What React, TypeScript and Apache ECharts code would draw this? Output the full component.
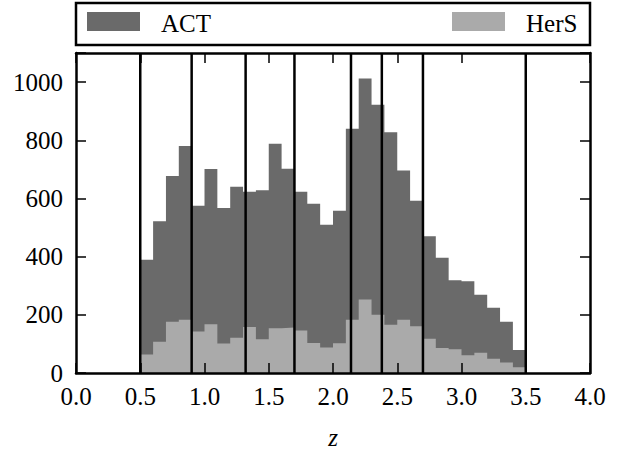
import { useEffect, useRef } from "react";
import * as echarts from "echarts";

const binStarts = [0.5, 0.6, 0.7, 0.8, 0.9, 1.0, 1.1, 1.2, 1.3, 1.4, 1.5, 1.6, 1.7, 1.8, 1.9, 2.0, 2.1, 2.2, 2.3, 2.4, 2.5, 2.6, 2.7, 2.8, 2.9, 3.0, 3.1, 3.2, 3.3, 3.4];
const binWidth = 0.1;
const actCounts = [389, 522, 677, 780, 575, 701, 567, 640, 623, 628, 788, 702, 623, 582, 510, 558, 840, 1012, 922, 828, 696, 592, 470, 396, 319, 315, 269, 224, 176, 79];
const hersCounts = [64, 107, 176, 183, 143, 168, 101, 121, 158, 116, 154, 156, 146, 103, 88, 102, 183, 253, 200, 166, 183, 161, 118, 86, 82, 61, 70, 49, 36, 20];
const boundaries = [0.5, 0.9, 1.32, 1.7, 2.14, 2.38, 2.7, 3.5];
const seriesNames = ["ACT", "HerS"];

const DARK = "#6a6a6a";
const LIGHT = "#aaaaaa";
const FONT = '"Liberation Serif", "DejaVu Serif", serif';
const YMAX = 1100;

function stepData(counts: number[]) {
  const pts = binStarts.map((b, i) => [b, counts[i]]);
  const last = binStarts.length - 1;
  pts.push([binStarts[last] + binWidth, counts[last]]);
  return pts;
}

export default function App() {
  const ref = useRef<HTMLDivElement>(null);
  useEffect(() => {
    if (!ref.current) return;
    const chart = echarts.init(ref.current, undefined, { renderer: "svg" });

    const axisLine = { show: true, onZero: false, lineStyle: { color: "#000", width: 2.5 } };
    const axisTick = { show: true, inside: true, length: 10, lineStyle: { color: "#000", width: 1.5 } };
    const labelStyle = { color: "#000", fontFamily: FONT, fontSize: 25 };

    const histSeries = (name: string, counts: number[], color: string, z: number) => ({
      name,
      type: "line",
      xAxisIndex: 0,
      yAxisIndex: 0,
      step: "end",
      data: stepData(counts),
      showSymbol: false,
      symbol: "none",
      lineStyle: { width: 1, color, opacity: 0 },
      areaStyle: { color, opacity: 1, origin: "start" },
      z,
    });

    chart.setOption({
      animation: false,
      backgroundColor: "#fff",
      grid: { left: 76, right: 39, top: 53, bottom: 75 },
      xAxis: [
        {
          type: "value",
          min: 0,
          max: 4,
          interval: 0.5,
          position: "bottom",
          axisLine,
          axisTick,
          splitLine: { show: false },
          axisLabel: { ...labelStyle, margin: 11, formatter: (v: number) => v.toFixed(1) },
          name: "z",
          nameLocation: "middle",
          nameGap: 52,
          nameTextStyle: { ...labelStyle, fontStyle: "italic" },
          z: 10,
        },
        {
          type: "value",
          min: 0,
          max: 4,
          interval: 0.5,
          position: "top",
          axisLine,
          axisTick,
          splitLine: { show: false },
          axisLabel: { show: false },
          z: 10,
        },
      ],
      yAxis: [
        {
          type: "value",
          min: 0,
          max: YMAX,
          interval: 200,
          position: "left",
          axisLine,
          axisTick,
          splitLine: { show: false },
          axisLabel: { ...labelStyle, margin: 13, formatter: (v: number) => (v > 1000 ? "" : String(v)) },
          z: 10,
        },
        {
          type: "value",
          min: 0,
          max: YMAX,
          interval: 200,
          position: "right",
          axisLine,
          axisTick,
          splitLine: { show: false },
          axisLabel: { show: false },
          z: 10,
        },
      ],
      series: [
        histSeries(seriesNames[0], actCounts, DARK, 2),
        histSeries(seriesNames[1], hersCounts, LIGHT, 3),
        {
          name: "bounds",
          type: "custom",
          xAxisIndex: 0,
          yAxisIndex: 0,
          encode: { x: 0, y: 1 },
          data: boundaries.map((b) => [b, 0]),
          renderItem: (params: any, api: any) => {
            const x = api.value(0);
            const top = api.coord([x, YMAX]);
            const bot = api.coord([x, 0]);
            return {
              type: "line",
              shape: { x1: top[0], y1: top[1], x2: bot[0], y2: bot[1] },
              style: { stroke: "#000", lineWidth: 2.5 },
            };
          },
          z: 4,
        },
      ],
      graphic: [
        {
          type: "rect",
          shape: { x: 76, y: 3, width: 514, height: 42 },
          style: { fill: "#fff", stroke: "#000", lineWidth: 2.5 },
        },
        {
          type: "rect",
          shape: { x: 87, y: 12, width: 53, height: 19 },
          style: { fill: DARK },
        },
        {
          type: "text",
          x: 161,
          y: 23,
          style: { text: seriesNames[0], font: `25px ${FONT}`, fill: "#000", verticalAlign: "middle", align: "left" },
        },
        {
          type: "rect",
          shape: { x: 452, y: 12, width: 53, height: 19 },
          style: { fill: LIGHT },
        },
        {
          type: "text",
          x: 526,
          y: 23,
          style: { text: seriesNames[1], font: `25px ${FONT}`, fill: "#000", verticalAlign: "middle", align: "left" },
        },
      ],
    });
    return () => chart.dispose();
  }, []);

  return (
    <div
      ref={ref}
      style={{ position: "fixed", left: 0, top: 0, width: 629, height: 455, background: "#fff" }}
    />
  );
}
